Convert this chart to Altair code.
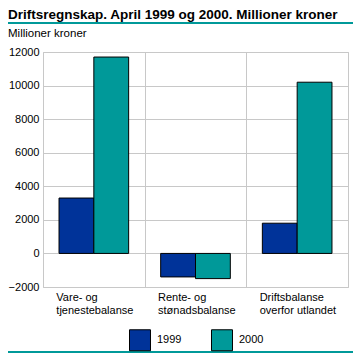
import altair as alt
import pandas as pd

categories = ["Vare- og\ntjenestebalanse", "Rente- og\nstønadsbalanse", "Driftsbalanse\noverfor utlandet"]
years = ["1999", "2000"]
values_1999 = [3300, -1400, 1800]
values_2000 = [11700, -1500, 10200]
colors = ["#003399", "#009999"]
title_text = "Driftsregnskap. April 1999 og 2000. Millioner kroner"
unit_text = "Millioner kroner"

rows = []
for c, v1, v2 in zip(categories, values_1999, values_2000):
    rows.append({"kategori": c, "år": years[0], "verdi": v1})
    rows.append({"kategori": c, "år": years[1], "verdi": v2})
df = pd.DataFrame(rows)

FONT = "Liberation Sans"
GRID = "#c8c8c8"
TEAL = "#009999"
PL = 35

bars = alt.Chart(df).mark_bar(stroke="black", strokeWidth=1).encode(
    x=alt.X("kategori:N", sort=categories,
            scale=alt.Scale(paddingInner=0, paddingOuter=0),
            axis=alt.Axis(title=None, grid=True, gridColor=GRID, tickBand="extent",
                          domain=False, ticks=False, labelAlign="left", labelOffset=-38,
                          labelBaseline="top", labelPadding=4, labelLineHeight=13,
                          labelAngle=0,
                          labelExpr="split(datum.label, '\\n')")),
    xOffset=alt.XOffset("år:N", sort=years,
                        scale=alt.Scale(paddingInner=0, paddingOuter=0.46)),
    y=alt.Y("verdi:Q", scale=alt.Scale(domain=[-2000, 12000], nice=False),
            axis=alt.Axis(title=None, values=list(range(-2000, 12001, 2000)),
                          format="d", grid=True, gridColor=GRID, domain=False,
                          ticks=False, labelPadding=4)),
    color=alt.Color("år:N", sort=years, title=None,
                    scale=alt.Scale(domain=years, range=colors),
                    legend=alt.Legend(orient="none", legendX=86, legendY=277,
                                      direction="horizontal", symbolType="square",
                                      symbolSize=440, symbolStrokeColor="black",
                                      symbolStrokeWidth=1, symbolOpacity=1,
                                      labelFont=FONT, labelFontSize=11,
                                      labelColor="black", labelOffset=6,
                                      columnPadding=27)),
)

title = alt.Chart(pd.DataFrame({"t": [title_text]})).mark_text(
    align="left", baseline="alphabetic", font=FONT, fontSize=13.5, fontWeight="bold",
    color="black").encode(x=alt.value(-PL), y=alt.value(-33), text="t:N")

unit = alt.Chart(pd.DataFrame({"t": [unit_text]})).mark_text(
    align="left", baseline="alphabetic", font=FONT, fontSize=11.5,
    color="black").encode(x=alt.value(-PL), y=alt.value(-15), text="t:N")

line_top = alt.Chart(pd.DataFrame({"a": [0]})).mark_rule(color=TEAL, strokeWidth=2).encode(
    x=alt.value(-PL), x2=alt.value(310), y=alt.value(-29))
line_bottom = alt.Chart(pd.DataFrame({"a": [0]})).mark_rule(color=TEAL, strokeWidth=2).encode(
    x=alt.value(-PL), x2=alt.value(310), y=alt.value(300))

chart = alt.layer(bars, title, unit, line_top, line_bottom).properties(
    width=305, height=235,
    autosize=alt.AutoSizeParams(type="none"),
    padding={"left": PL, "top": 44, "right": 5, "bottom": 66},
).configure_view(stroke=GRID).configure_axis(
    labelFont=FONT, labelFontSize=11, labelColor="black")

chart.save("out.html", embed_options={"renderer": "svg", "actions": False})
